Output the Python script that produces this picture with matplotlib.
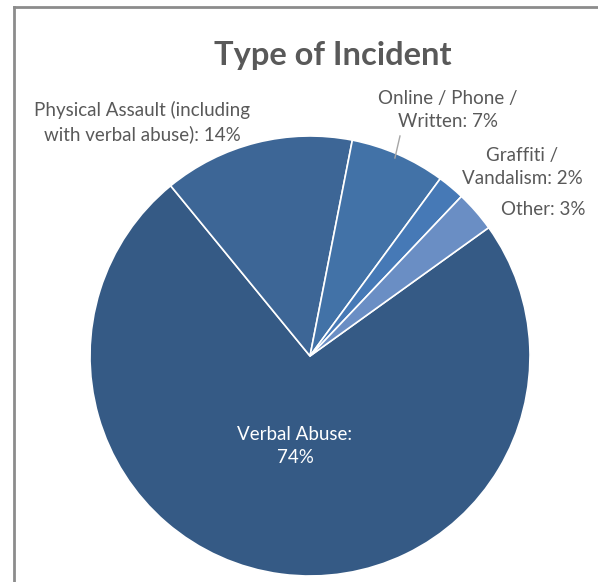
import matplotlib.pyplot as plt
from matplotlib.lines import Line2D
import numpy as np

categories = ['Verbal Abuse', 'Physical Assault (including\nwith verbal abuse)',
              'Online / Phone /\nWritten', 'Graffiti /\nVandalism', 'Other']
values = [74, 14, 7, 2, 3]
colors = ['#355a85', '#3d6696', '#4272a7', '#4679b6', '#6a8ec4']

label_pos = [(-0.068, -0.41), (-0.764, 1.064), (0.627, 1.118), (0.964, 0.859), (1.06, 0.664)]

plt.rcParams['font.family'] = ['Lato', 'DejaVu Sans']

fig = plt.figure(figsize=(5.98, 5.82), dpi=100)
ax = fig.add_axes([90 / 598, 6 / 582, 440 / 598, 440 / 582])

wedges, _ = ax.pie(values, colors=colors, startangle=35.7, counterclock=False,
                   wedgeprops=dict(edgecolor='white', linewidth=1.2))
ax.set_xlim(-1, 1)
ax.set_ylim(-1, 1)
ax.set_aspect('equal')

for i, (cat, val) in enumerate(zip(categories, values)):
    if i == 0:
        txt = '%s:\n%d%%' % (cat, val)
        col = 'white'
    else:
        txt = '%s: %d%%' % (cat, val)
        col = '#595959'
    ax.text(label_pos[i][0], label_pos[i][1], txt, ha='center', va='center',
            fontsize=13.5, color=col, linespacing=1.45, clip_on=False)

# leader line for the online slice
ax.plot([0.386, 0.409], [0.90, 1.00], color='#a6a6a6', lw=1, clip_on=False)

fig.text(333 / 598, 1 - 56 / 582, 'Type of Incident', ha='center', va='center',
         fontsize=23.5, fontweight='bold', color='#595959')

# chart frame (left and top edges)
fig.add_artist(Line2D([14 / 598, 14 / 598], [0, 1 - 7 / 582], color='#8c8c8c', lw=2))
fig.add_artist(Line2D([14 / 598, 1], [1 - 7 / 582, 1 - 7 / 582], color='#8c8c8c', lw=2))

fig.savefig('out.png', dpi=100)
